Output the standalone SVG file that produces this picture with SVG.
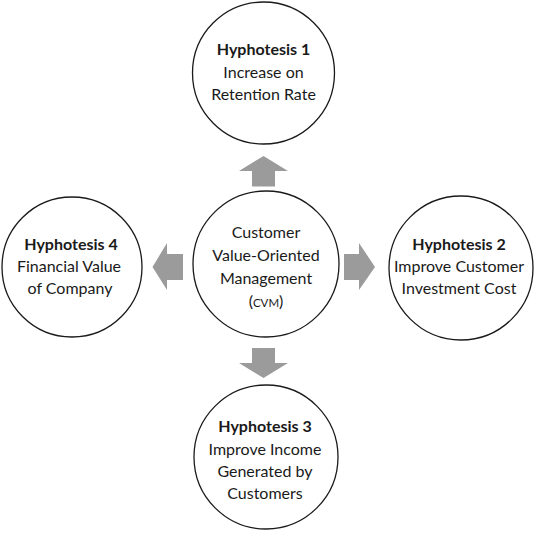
<svg xmlns="http://www.w3.org/2000/svg" width="539" height="539" viewBox="0 0 539 539">
<style>
.c{fill:#fff;stroke:#1a1a1a;stroke-width:1.3}
.t{font-family:Lato,"Open Sans",sans-serif;font-size:16px;fill:#1a1a1a;text-anchor:middle}
.b{font-weight:bold}
.a{fill:#9b9b9b}
</style>
<rect width="539" height="539" fill="#fff"/>
<g id="connectors">
<polygon class="a" points="263.5,156 239,171 252,171 252,186.5 275,186.5 275,171 288,171"/>
<polygon class="a" points="263.5,378 239,363 252,363 252,348 275,348 275,363 288,363"/>
<polygon class="a" points="152.5,267 167,243 167,254 183,254 183,280 167,280 167,290"/>
<polygon class="a" points="375,267 359,243 359,254 344,254 344,280 359,280 359,290"/>
</g>
<g id="h1">
<circle class="c" cx="263.5" cy="73" r="71"/>
<text class="t b" x="263.5" y="55">Hyphotesis 1</text>
<text class="t" x="263.5" y="78">Increase on</text>
<text class="t" x="263.5" y="100">Retention Rate</text>
</g>
<g id="cvm">
<circle class="c" cx="266" cy="264" r="73"/>
<text class="t" x="266" y="238">Customer</text>
<text class="t" x="266" y="261">Value-Oriented</text>
<text class="t" x="266" y="284">Management</text>
<text class="t" x="266" y="307">(<tspan font-size="11.5">CVM</tspan>)</text>
</g>
<g id="h4">
<circle class="c" cx="72" cy="267" r="70"/>
<text class="t b" x="71" y="250">Hyphotesis 4</text>
<text class="t" x="69" y="272">Financial Value</text>
<text class="t" x="70" y="294">of Company</text>
</g>
<g id="h2">
<circle class="c" cx="461" cy="268" r="72"/>
<text class="t b" x="459" y="250">Hyphotesis 2</text>
<text class="t" x="459" y="272">Improve Customer</text>
<text class="t" x="459" y="294">Investment Cost</text>
</g>
<g id="h3">
<circle class="c" cx="266" cy="457" r="72"/>
<text class="t b" x="265" y="432">Hyphotesis 3</text>
<text class="t" x="265" y="455">Improve Income</text>
<text class="t" x="265" y="477">Generated by</text>
<text class="t" x="265" y="499">Customers</text>
</g>
</svg>
